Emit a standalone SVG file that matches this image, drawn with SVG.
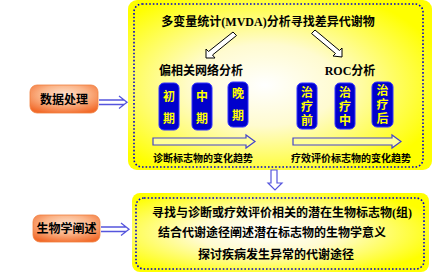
<svg xmlns="http://www.w3.org/2000/svg" width="440" height="277" viewBox="0 0 440 277">
<defs>
<radialGradient id="yg" cx="0.45" cy="0.5" r="0.6">
<stop offset="0" stop-color="#ffffff"/>
<stop offset="0.4" stop-color="#fffbd0"/>
<stop offset="1" stop-color="#ffff00"/>
</radialGradient>
<radialGradient id="og" cx="0.5" cy="0.35" r="0.7">
<stop offset="0" stop-color="#fde3cf"/>
<stop offset="0.5" stop-color="#fbb488"/>
<stop offset="1" stop-color="#f26a2a"/>
</radialGradient>
<style>
.t{font-family:"Liberation Serif","Noto Sans CJK SC",serif;font-weight:bold;fill:#000;}
.bx{fill:#0000cc;stroke:#3333ff;stroke-width:1;}
.bt{font-family:"Liberation Serif","Noto Sans CJK SC",serif;font-weight:bold;fill:#ffff00;font-size:12px;text-anchor:middle;}
.dot{fill:none;stroke:#0000cc;stroke-width:1.6;stroke-dasharray:1.6 2;}
.ha{fill:#ffffff;stroke:#000;stroke-width:1;}
.ba{fill:#ffff99;stroke:#4444cc;stroke-width:1.2;}
.da{fill:#ffffff;stroke:#5555dd;stroke-width:1.2;}
.dbl{fill:none;stroke:#5555dd;stroke-width:1.3;}
</style>
</defs>
<rect width="440" height="277" fill="#ffffff"/>

<g id="top-panel">
<rect x="128" y="0" width="304" height="170" rx="9" fill="url(#yg)"/>
<rect x="134" y="4" width="289" height="163" rx="8" class="dot"/>
<text class="t" x="268" y="26" font-size="12" text-anchor="middle">多变量统计(MVDA)分析寻找差异代谢物</text>
<text class="t" x="201" y="75" font-size="12" text-anchor="middle">偏相关网络分析</text>
<text class="t" x="350" y="75" font-size="12" text-anchor="middle">ROC分析</text>
<text class="t" x="203" y="162" font-size="10" text-anchor="middle">诊断标志物的变化趋势</text>
<text class="t" x="351" y="162" font-size="10" text-anchor="middle">疗效评价标志物的变化趋势</text>
</g>

<g id="box-early"><rect class="bx" x="159" y="83" width="20" height="47" rx="5"/><text class="bt" x="169" y="101">初</text><text class="bt" x="169" y="123">期</text></g>
<g id="box-mid"><rect class="bx" x="192" y="83" width="20" height="47" rx="5"/><text class="bt" x="202" y="101">中</text><text class="bt" x="202" y="123">期</text></g>
<g id="box-late"><rect class="bx" x="228" y="82" width="20" height="45" rx="5"/><text class="bt" x="238" y="98">晚</text><text class="bt" x="238" y="120">期</text></g>
<g id="box-pre"><rect class="bx" x="297" y="83" width="20" height="46" rx="5"/><text class="bt" x="307" y="97">治</text><text class="bt" x="307" y="111">疗</text><text class="bt" x="307" y="125">前</text></g>
<g id="box-during"><rect class="bx" x="335" y="83" width="20" height="46" rx="5"/><text class="bt" x="345" y="97">治</text><text class="bt" x="345" y="111">疗</text><text class="bt" x="345" y="125">中</text></g>
<g id="box-post"><rect class="bx" x="372" y="82" width="21" height="45" rx="5"/><text class="bt" x="382.5" y="95">治</text><text class="bt" x="382.5" y="109">疗</text><text class="bt" x="382.5" y="123">后</text></g>

<g id="bottom-panel">
<rect x="132" y="193" width="297" height="79" rx="8" fill="url(#yg)"/>
<rect x="136" y="198" width="288" height="71" rx="8" class="dot"/>
<text class="t" x="282" y="217" font-size="12" text-anchor="middle">寻找与诊断或疗效评价相关的潜在生物标志物(组)</text>
<text class="t" x="272" y="237" font-size="12" text-anchor="middle">结合代谢途径阐述潜在标志物的生物学意义</text>
<text class="t" x="276" y="259" font-size="12" text-anchor="middle">探讨疾病发生异常的代谢途径</text>
</g>

<g id="label-data">
<rect x="30" y="85" width="68" height="28" rx="7" fill="url(#og)" stroke="#f08040" stroke-width="0.8"/>
<text class="t" x="64" y="103.5" font-size="12" text-anchor="middle">数据处理</text>
</g>
<g id="label-bio">
<rect x="33" y="215" width="67" height="27" rx="7" fill="url(#og)" stroke="#f08040" stroke-width="0.8"/>
<text class="t" x="66.5" y="233" font-size="12" text-anchor="middle">生物学阐述</text>
</g>

<g id="connectors">
<path class="ha" d="M233,32 L236.5,35.5 L212.5,55 L215,58 L206,58 L206,49 L208.5,51.5 Z"/>
<path class="ha" d="M315,30 L311.5,33.5 L335.5,53.5 L333,56 L342,57 L342,48 L339.5,50.5 Z"/>
<path class="ba" d="M153,138 L246,138 L246,135 L255,141.5 L246,148 L246,145 L153,145 Z"/>
<path class="ba" d="M293,138 L392,138 L392,135 L401,141.5 L392,148 L392,145 L293,145 Z"/>
<path class="da" d="M271,170 L277,170 L277,183 L282,183 L275,190 L268,183 L271,183 Z"/>
<path class="dbl" d="M99,100 L124,100 M99,104.5 L124,104.5 M119,96 L127,102.2 L119,108.5"/>
<path class="dbl" d="M101,227 L126,227 M101,231.5 L126,231.5 M121,223 L129,229.2 L121,235.5"/>
</g>
</svg>
